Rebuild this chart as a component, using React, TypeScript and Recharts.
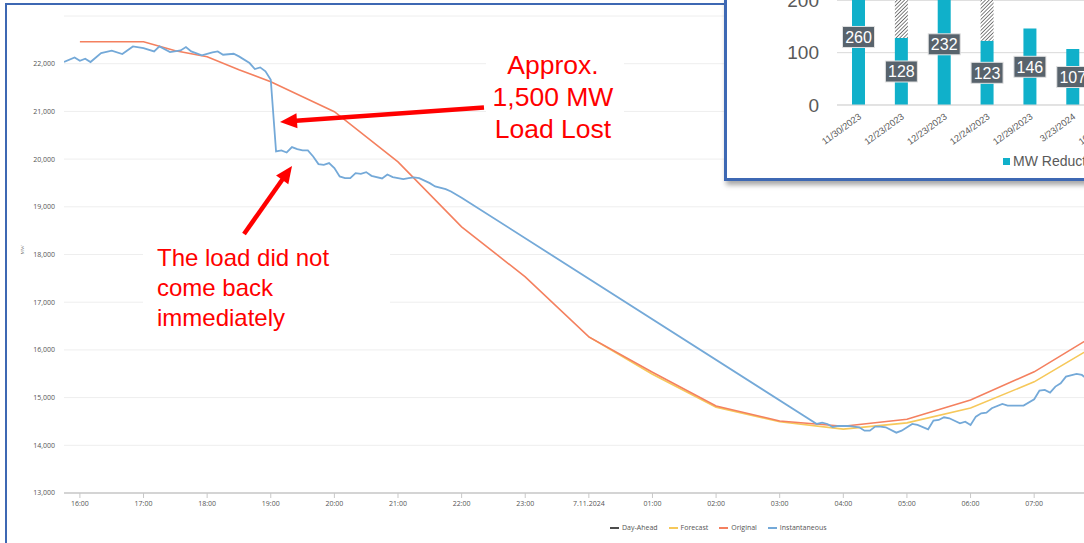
import React from 'react';
import { LineChart, Line, XAxis, YAxis, CartesianGrid, Legend, BarChart, Bar, LabelList } from 'recharts';

// ---------- Main chart data (minutes after 16:00 on 6.11.2024) ----------
const START_HOUR = 16;
const DATE_LABEL = '7.11.2024';
const hourTicks = [0, 60, 120, 180, 240, 300, 360, 420, 480, 540, 600, 660, 720, 780, 840, 900];
const mwTicks = [13000, 14000, 15000, 16000, 17000, 18000, 19000, 20000, 21000, 22000];
const seriesOrder = ['Day-Ahead', 'Forecast', 'Original', 'Instantaneous'];

const originalMin = [0, 60, 90, 120, 150, 180, 210, 240, 300, 360, 420, 480, 540, 600, 660, 720, 780, 840, 900, 960];
const originalMW = [22460, 22460, 22272, 22146, 21874, 21622, 21307, 20993, 19940, 18580, 17531, 16273, 15530, 14825, 14510, 14400, 14545, 14950, 15540, 16350];

const forecastMin = [480, 540, 600, 660, 720, 780, 840, 900, 960];
const forecastMW = [16273, 15490, 14800, 14495, 14340, 14470, 14783, 15330, 16120];

const instMin = [-15, -5, 0, 5, 10, 20, 30, 40, 50, 60, 70, 75, 85, 95, 100, 105, 115, 125, 130, 135, 145, 150, 160, 165, 170, 175, 180, 185, 190, 195, 200, 205, 210, 215, 220, 225, 230, 235, 240, 245, 250, 255, 260, 265, 270, 275, 285, 290, 295, 305, 310, 315, 320, 330, 335, 345, 350, 360, 695, 700, 705, 710, 715, 725, 730, 735, 740, 745, 750, 755, 760, 770, 775, 785, 790, 800, 805, 810, 815, 820, 830, 835, 840, 845, 850, 855, 860, 870, 875, 890, 900, 905, 910, 915, 920, 925, 930, 940, 945, 950, 955];
const instMW = [22035, 22132, 22062, 22104, 22035, 22223, 22272, 22202, 22362, 22328, 22258, 22362, 22244, 22279, 22349, 22258, 22174, 22237, 22258, 22188, 22209, 22153, 22014, 21888, 21923, 21839, 21664, 20160, 20181, 20139, 20251, 20209, 20181, 20181, 20055, 19895, 19881, 19916, 19811, 19636, 19600, 19601, 19706, 19692, 19727, 19650, 19594, 19678, 19622, 19580, 19601, 19615, 19601, 19496, 19426, 19370, 19322, 19190, 14447, 14475, 14447, 14384, 14405, 14405, 14391, 14377, 14307, 14307, 14391, 14391, 14377, 14265, 14307, 14447, 14426, 14336, 14517, 14531, 14588, 14567, 14462, 14496, 14426, 14601, 14671, 14685, 14776, 14867, 14832, 14832, 14966, 15147, 15161, 15105, 15231, 15301, 15440, 15496, 15475, 15385, 15420];

// ---------- Inset bar chart data ----------
const barDates = ['11/30/2023', '12/23/2023', '12/23/2023', '12/24/2023', '12/29/2023', '3/23/2024', '10/17/2024'];
const mwReduction = [260, 128, 232, 123, 146, 107, 150];
const mwUnverified = [0, 140, 0, 150, 0, 0, 0];
const barTicks = [0, 100, 200, 300];

// ---------- build tables ----------
const rowMap = new Map<number, any>();
const put = (ts: number[], vs: number[], key: string) =>
  ts.forEach((t, i) => {
    const r = rowMap.get(t) || { t };
    r[key] = vs[i];
    rowMap.set(t, r);
  });
put(originalMin, originalMW, 'original');
put(forecastMin, forecastMW, 'forecast');
put(instMin, instMW, 'inst');
const lineData = Array.from(rowMap.values()).sort((a, b) => a.t - b.t);

const barData = barDates.map((d, i) => ({ i, d, mw: mwReduction[i], extra: mwUnverified[i] }));

const fmtHour = (m: number) => {
  const h = (START_HOUR + m / 60) % 24;
  if (h === 0) return DATE_LABEL;
  return String(h).padStart(2, '0') + ':00';
};
const fmtMW = (v: number) => v.toLocaleString('en-US');

const COLORS = {
  dayAhead: '#4d4d4d',
  forecast: '#f6c85a',
  original: '#f4805f',
  inst: '#74a9d8',
  frame: '#3d68b3',
  teal: '#10b0ca',
  red: '#ff0000',
};

const MainLegend = (props: any) => {
  const items = [...(props.payload || [])].sort(
    (a: any, b: any) => seriesOrder.indexOf(a.value) - seriesOrder.indexOf(b.value)
  );
  return (
    <div style={{ display: 'flex', paddingLeft: 602, paddingTop: 5, fontFamily: 'Open Sans, sans-serif', fontSize: 7, color: '#555', lineHeight: '12px' }}>
      {items.map((it: any) => (
        <div key={it.value} style={{ display: 'flex', alignItems: 'center', marginRight: 11 }}>
          <span style={{ display: 'inline-block', width: 9, height: 2, background: it.color, marginRight: 3 }} />
          <span>{it.value}</span>
        </div>
      ))}
    </div>
  );
};

const Arrow = ({ x1, y1, x2, y2 }: { x1: number; y1: number; x2: number; y2: number }) => {
  const ang = Math.atan2(y2 - y1, x2 - x1);
  const L = 17;
  const W = 7.5;
  const bx = x2 - L * Math.cos(ang);
  const by = y2 - L * Math.sin(ang);
  const px = -Math.sin(ang) * W;
  const py = Math.cos(ang) * W;
  return (
    <g>
      <line x1={x1} y1={y1} x2={bx + Math.cos(ang)} y2={by + Math.sin(ang)} stroke={COLORS.red} strokeWidth={4.5} />
      <polygon points={`${x2},${y2} ${bx + px},${by + py} ${bx - px},${by - py}`} fill={COLORS.red} />
    </g>
  );
};

const DateTick = (props: any) => {
  const { x, y, payload } = props;
  const ax = x + 3.5;
  const ay = y + 13;
  return (
    <text x={ax} y={ay} transform={`rotate(-36 ${ax} ${ay})`} textAnchor="end" fontSize={9.3} fill="#595959" fontFamily="Liberation Sans, Arial, sans-serif">
      {barDates[payload.value]}
    </text>
  );
};

const BoxLabel = (props: any) => {
  const { x, y, width, height, value } = props;
  if (!value) return null;
  const cx = x + width / 2;
  const cy = y + height / 2;
  return (
    <g>
      <rect x={cx - 16} y={cy - 10.5} width={32} height={21} fill="#58636c" stroke="#e2e2e2" strokeWidth={1} />
      <text x={cx} y={cy} dy="0.36em" textAnchor="middle" fill="#ffffff" fontSize={16} fontFamily="Liberation Sans, Arial, sans-serif">
        {value}
      </text>
    </g>
  );
};

const InsetLegend = (props: any) => {
  const items = props.payload || [];
  return (
    <div style={{ display: 'flex', paddingLeft: 276, fontFamily: 'Liberation Sans, Arial, sans-serif', fontSize: 14, color: '#595959', lineHeight: '20px', whiteSpace: 'nowrap' }}>
      {items.map((it: any) => (
        <div key={it.value} style={{ display: 'flex', alignItems: 'center', marginRight: 14 }}>
          <svg width={7} height={7} style={{ marginRight: 3 }}>
            <rect width={7} height={7} fill={it.dataKey === 'extra' ? 'url(#hatch)' : it.color} />
          </svg>
          <span>{it.value}</span>
        </div>
      ))}
    </div>
  );
};

export default function App() {
  return (
    <div style={{ position: 'absolute', left: 0, top: 0, width: 1084, height: 543, overflow: 'hidden', background: '#ffffff' }}>
      {/* outer frame */}
      <div style={{ position: 'absolute', left: 5, top: 3, width: 1200, height: 700, border: `2px solid ${COLORS.frame}` }} />

      {/* main line chart */}
      <div style={{ position: 'absolute', left: 0, top: 0 }}>
        <LineChart width={1434} height={543} data={lineData} margin={{ top: 16, right: 16, bottom: 0, left: 8 }}>
          <CartesianGrid vertical={false} stroke="#eeeeee" strokeWidth={1} />
          <XAxis
            dataKey="t"
            type="number"
            domain={[-15, 1262]}
            ticks={hourTicks}
            interval={0}
            tickFormatter={fmtHour}
            height={24}
            tickSize={5}
            tickMargin={3}
            axisLine={{ stroke: '#c8c8c8', strokeWidth: 1.5 }}
            tickLine={{ stroke: '#c8c8c8' }}
            tick={{ fontSize: 7, fill: '#555', fontFamily: 'Open Sans, sans-serif' }}
            allowDataOverflow
          />
          <YAxis
            type="number"
            domain={[13000, 23000]}
            ticks={mwTicks}
            interval={0}
            tickFormatter={fmtMW}
            width={56}
            tickSize={0}
            tickMargin={9}
            axisLine={false}
            tickLine={false}
            tick={{ fontSize: 7, fill: '#555', fontFamily: 'Open Sans, sans-serif' }}
            label={{ value: 'MW', angle: -90, position: 'insideLeft', offset: 14, style: { fontSize: 5, fill: '#777' } }}
          />
          <Legend verticalAlign="bottom" align="left" height={26} content={<MainLegend />} />
          <Line name="Day-Ahead" dataKey="dayAhead" stroke={COLORS.dayAhead} dot={false} connectNulls isAnimationActive={false} />
          <Line name="Forecast" dataKey="forecast" type="linear" stroke={COLORS.forecast} strokeWidth={1.6} dot={false} connectNulls isAnimationActive={false} />
          <Line name="Original" dataKey="original" type="linear" stroke={COLORS.original} strokeWidth={1.6} dot={false} connectNulls isAnimationActive={false} />
          <Line name="Instantaneous" dataKey="inst" type="linear" stroke={COLORS.inst} strokeWidth={1.8} dot={false} connectNulls isAnimationActive={false} />
        </LineChart>
      </div>

      {/* annotations */}
      <svg width={1084} height={543} style={{ position: 'absolute', left: 0, top: 0, pointerEvents: 'none' }}>
        <rect x={486} y={44} width={138} height={104} fill="#ffffff" />
        <rect x={143} y={236} width={247} height={102} fill="#ffffff" />
        <g fill={COLORS.red} fontFamily="Liberation Sans, Arial, sans-serif" fontSize={26.5} textAnchor="middle">
          <text x={553} y={74}>Approx.</text>
          <text x={553} y={106}>1,500 MW</text>
          <text x={553} y={138}>Load Lost</text>
        </g>
        <g fill={COLORS.red} fontFamily="Liberation Sans, Arial, sans-serif" fontSize={24}>
          <text x={157} y={265.5}>The load did not</text>
          <text x={157} y={295.5}>come back</text>
          <text x={157} y={325.5}>immediately</text>
        </g>
        <Arrow x1={484} y1={107.5} x2={280} y2={122} />
        <Arrow x1={244} y1={234} x2={292} y2={166} />
      </svg>

      {/* inset bar chart */}
      <div
        style={{
          position: 'absolute',
          left: 724,
          top: -3,
          width: 440,
          height: 181,
          background: '#ffffff',
          borderLeft: `3px solid ${COLORS.frame}`,
          borderBottom: `3px solid ${COLORS.frame}`,
          boxShadow: '2px 4px 5px rgba(0,0,0,0.35)',
          overflow: 'hidden',
        }}
      >
        <div style={{ position: 'absolute', left: 0, top: -59 }}>
          <BarChart width={420} height={243} data={barData} margin={{ top: 10, right: 10, bottom: 0, left: 0 }}>
            <defs>
              <pattern id="hatch" width="2.6" height="2.6" patternUnits="userSpaceOnUse" patternTransform="rotate(45)">
                <rect width="2.6" height="2.6" fill="#ffffff" />
                <line x1="0" y1="0" x2="0" y2="2.6" stroke="#4a4a4a" strokeWidth="1.4" />
              </pattern>
            </defs>
            <CartesianGrid vertical={false} stroke="#d9d9d9" />
            <XAxis
              dataKey="i"
              type="category"
              interval={0}
              height={46}
              tickSize={0}
              tickMargin={0}
              axisLine={{ stroke: '#d9d9d9' }}
              tickLine={false}
              tick={<DateTick />}
            />
            <YAxis
              type="number"
              domain={[0, 300]}
              ticks={barTicks}
              interval={0}
              width={110}
              tickSize={0}
              tickMargin={18}
              axisLine={false}
              tickLine={false}
              tick={{ fontSize: 19, fill: '#595959', fontFamily: 'Liberation Sans, Arial, sans-serif' }}
            />
            <Legend verticalAlign="bottom" align="left" height={30} content={<InsetLegend />} />
            <Bar name="MW Reduction" dataKey="mw" stackId="a" fill={COLORS.teal} barSize={13} isAnimationActive={false}>
              <LabelList dataKey="mw" content={<BoxLabel />} />
            </Bar>
            <Bar name="Unconfirmed" dataKey="extra" stackId="a" fill="url(#hatch)" barSize={13} isAnimationActive={false} />
          </BarChart>
        </div>
      </div>
    </div>
  );
}
